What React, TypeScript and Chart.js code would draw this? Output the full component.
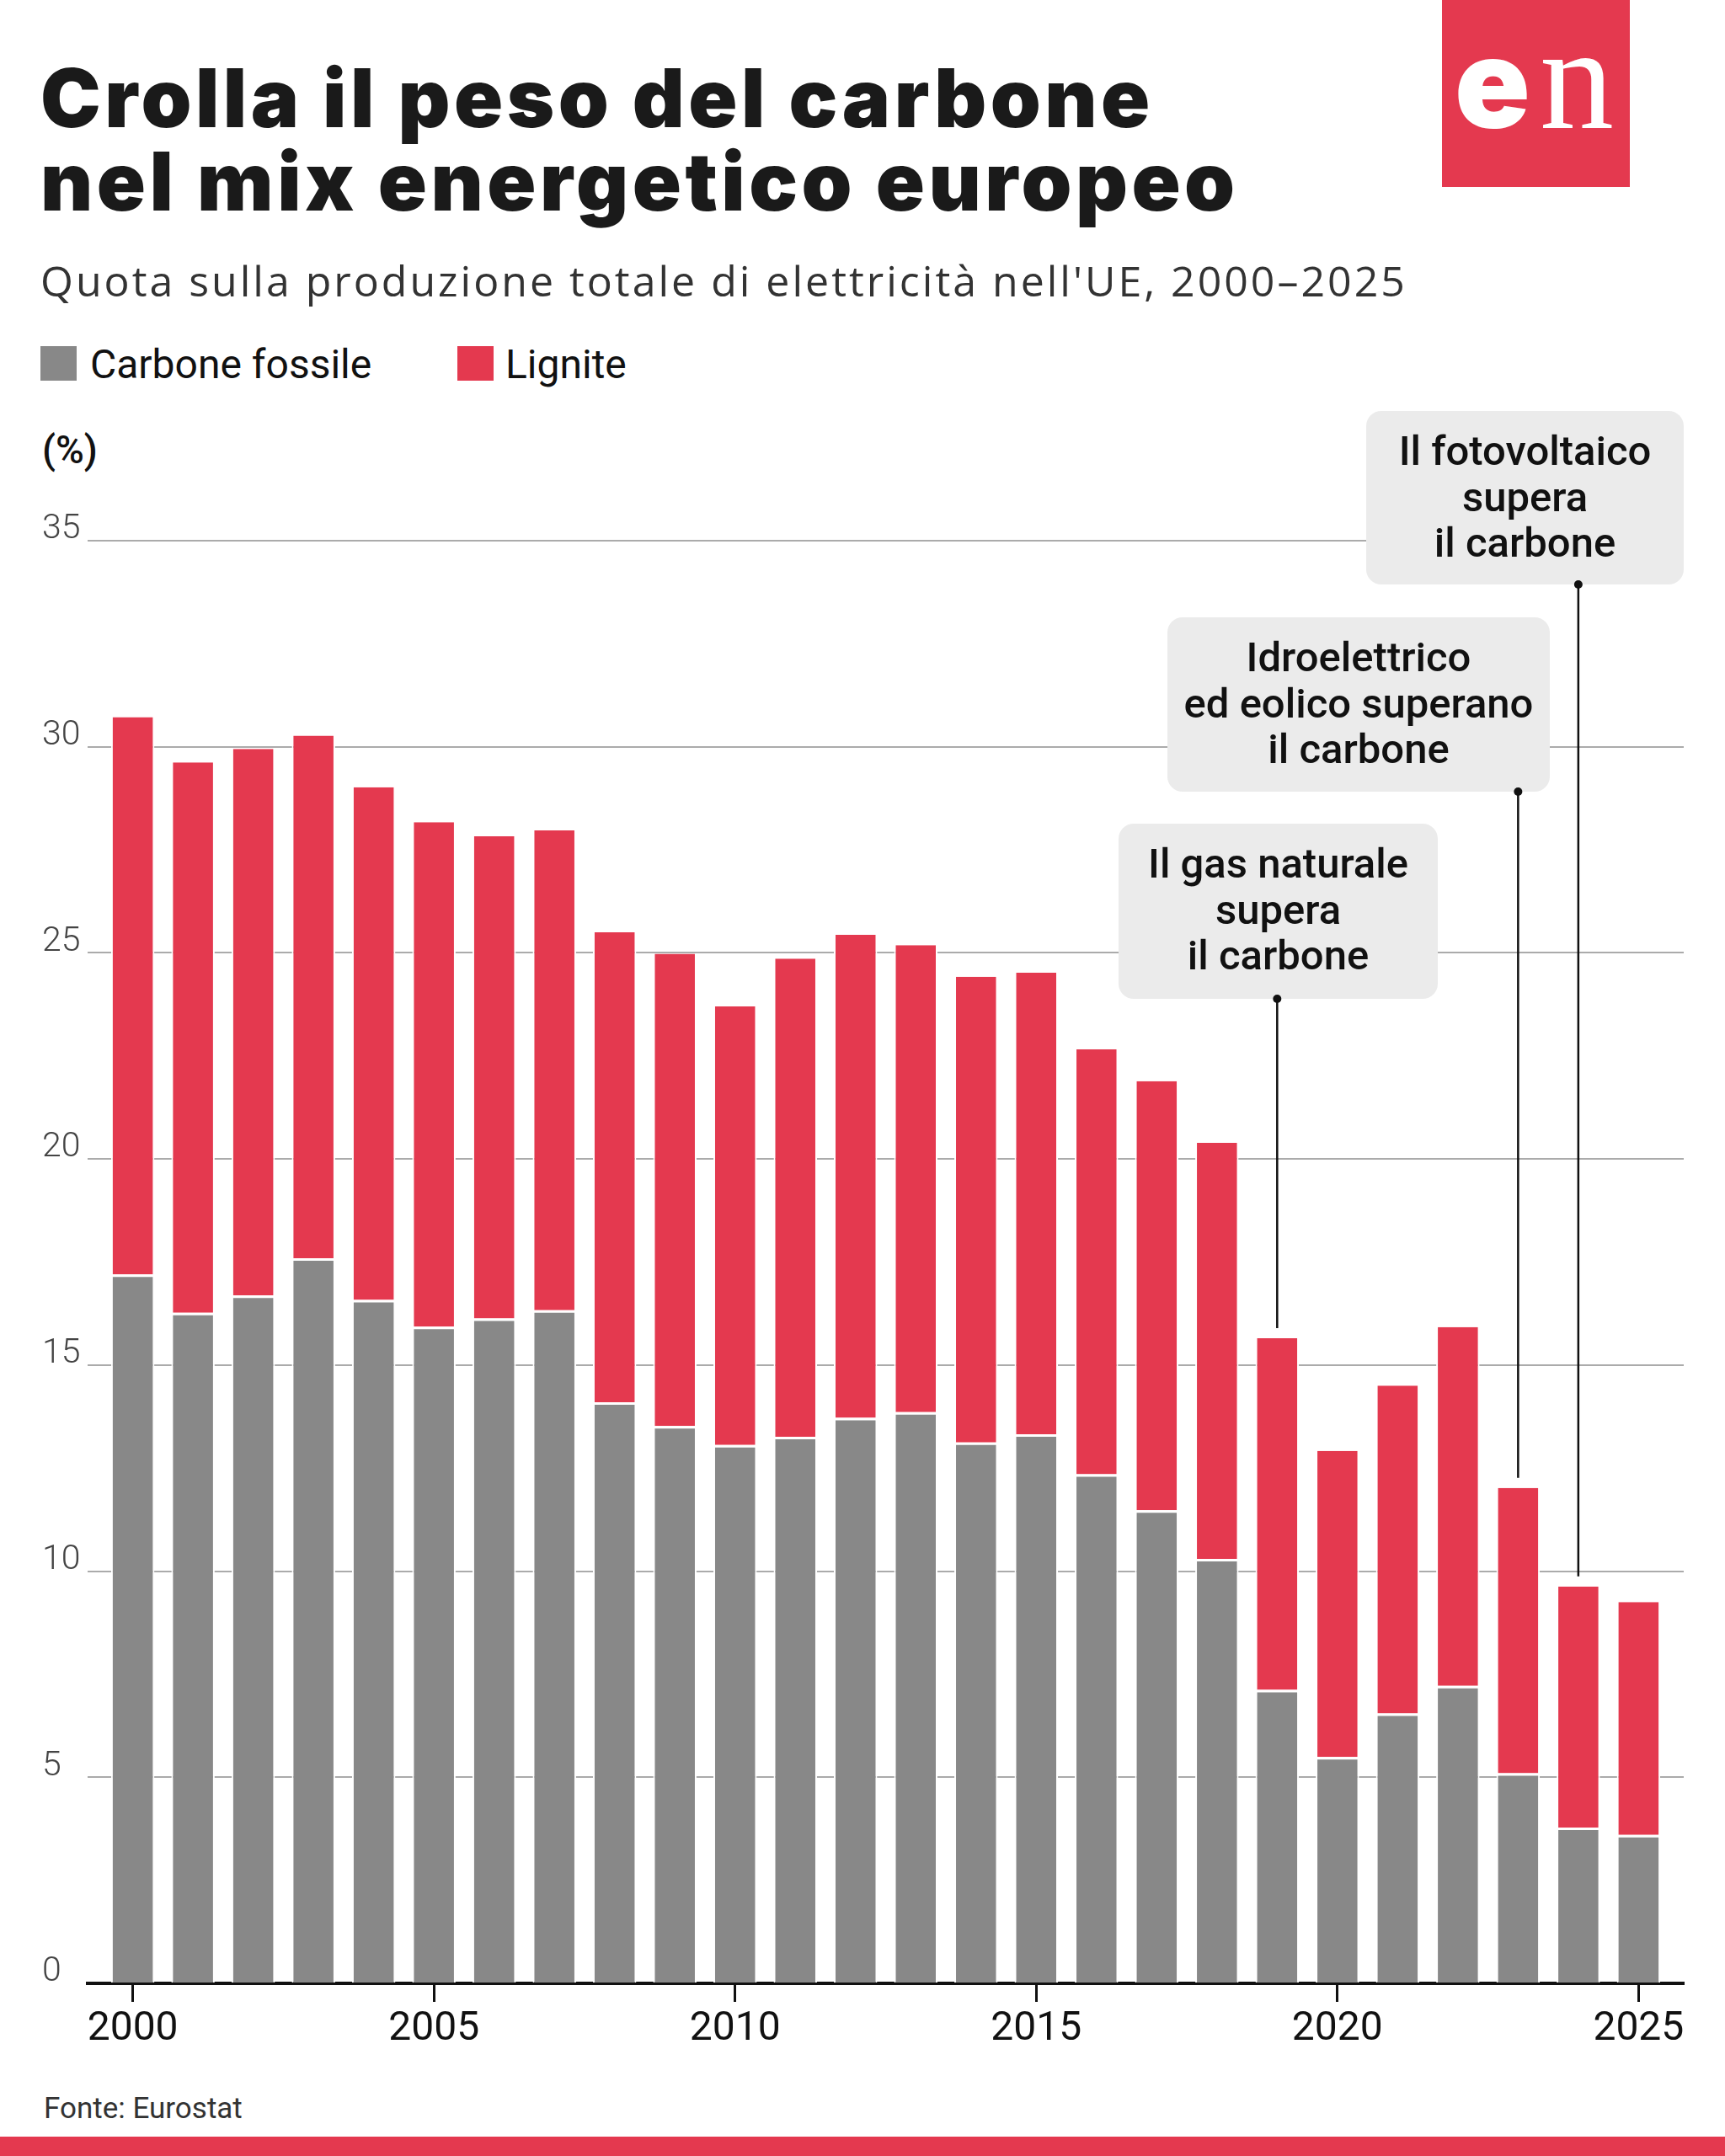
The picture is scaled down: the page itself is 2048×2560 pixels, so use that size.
import React, { useEffect, useRef } from 'react';
import { Chart, registerables } from 'chart.js';

Chart.register(...registerables);

// ---------- DATA ----------
const years = [2000, 2001, 2002, 2003, 2004, 2005, 2006, 2007, 2008, 2009, 2010, 2011, 2012,
  2013, 2014, 2015, 2016, 2017, 2018, 2019, 2020, 2021, 2022, 2023, 2024, 2025];
const hardCoal = [17.2, 16.27, 16.69, 17.59, 16.58, 15.93, 16.13, 16.33, 14.1, 13.52, 13.06, 13.26, 13.72,
  13.86, 13.12, 13.32, 12.35, 11.48, 10.3, 7.12, 5.49, 6.55, 7.22, 5.1, 3.78, 3.6];
const lignite = [13.52, 13.35, 13.26, 12.68, 12.44, 12.24, 11.7, 11.64, 11.4, 11.46, 10.64, 11.6, 11.72,
  11.33, 11.3, 11.2, 10.31, 10.41, 10.09, 8.53, 7.43, 7.95, 8.7, 6.92, 5.85, 5.65];
const seriesNames = ['Carbone fossile', 'Lignite'];
const yTicks = [0, 5, 10, 15, 20, 25, 30, 35];
const annotationYears = [2019, 2023, 2024];
const annotationTexts = [
  ['Il gas naturale', 'supera', 'il carbone'],
  ['Idroelettrico', 'ed eolico superano', 'il carbone'],
  ['Il fotovoltaico', 'supera', 'il carbone'],
];

// ---------- STYLE / LAYOUT ----------
const RED = '#E4394F';
const GRAY = '#888888';
const CANVAS_TOP = 440;
const CANVAS_H = 2000;
const annotationBoxes = [
  { left: 1328, right: 1707, top: 978, bottom: 1186 },
  { left: 1386, right: 1840, top: 733, bottom: 940 },
  { left: 1622, right: 1999, top: 488, bottom: 694 },
];

const annotationPlugin = {
  id: 'annotationBoxes',
  afterDatasetsDraw(chart: any) {
    const { ctx, scales } = chart;
    const xs = scales.x;
    const ys = scales.y;
    ctx.save();
    annotationYears.forEach((yr, i) => {
      const idx = years.indexOf(yr);
      const total = hardCoal[idx] + lignite[idx];
      const px = xs.getPixelForValue(yr);
      const barTop = ys.getPixelForValue(total);
      const b = annotationBoxes[i];
      const top = b.top - CANVAS_TOP;
      const bottom = b.bottom - CANVAS_TOP;
      // connector line
      ctx.strokeStyle = '#111';
      ctx.lineWidth = 2.5;
      ctx.beginPath();
      ctx.moveTo(px, bottom);
      ctx.lineTo(px, barTop - 12);
      ctx.stroke();
      // box
      ctx.fillStyle = '#EBEBEB';
      ctx.beginPath();
      (ctx as any).roundRect(b.left, top, b.right - b.left, bottom - top, 18);
      ctx.fill();
      // dot
      ctx.fillStyle = '#111';
      ctx.beginPath();
      ctx.arc(px, bottom, 5, 0, Math.PI * 2);
      ctx.fill();
      // text
      ctx.fillStyle = '#111';
      ctx.font = '500 49px Roboto';
      ctx.textAlign = 'center';
      ctx.textBaseline = 'middle';
      const cx = (b.left + b.right) / 2;
      annotationTexts[i].forEach((line, j) => {
        ctx.fillText(line, cx, top + 52 + j * 54.5);
      });
    });
    ctx.restore();
  },
};

export default function App() {
  const canvasRef = useRef<HTMLCanvasElement | null>(null);

  useEffect(() => {
    document.body.style.margin = '0';
    const canvas = canvasRef.current;
    if (!canvas) return;
    const chart = new Chart(canvas, {
      type: 'bar',
      data: {
        datasets: [
          {
            label: seriesNames[0],
            data: years.map((yr, i) => ({ x: yr, y: hardCoal[i] })),
            backgroundColor: GRAY,
            borderColor: '#ffffff',
            borderWidth: { top: 3, left: 2, right: 2, bottom: 0 },
            borderSkipped: false,
            stack: 's',
            barPercentage: 0.72,
            categoryPercentage: 1,
          },
          {
            label: seriesNames[1],
            data: years.map((yr, i) => ({ x: yr, y: lignite[i] })),
            backgroundColor: RED,
            borderColor: '#ffffff',
            borderWidth: { top: 0, left: 2, right: 2, bottom: 0 },
            borderSkipped: false,
            stack: 's',
            barPercentage: 0.72,
            categoryPercentage: 1,
          },
        ],
      },
      options: {
        responsive: false,
        animation: false,
        devicePixelRatio: 1,
        layout: { padding: { left: 50, right: 49, top: 642 - CANVAS_TOP, bottom: 0 } },
        plugins: {
          legend: { display: false },
          tooltip: { enabled: false },
          title: { display: false },
        },
        scales: {
          x: {
            type: 'linear',
            stacked: true,
            offset: false,
            min: 1999.25,
            max: 2025.75,
            z: 1,
            afterFit: (s: any) => { s.height = CANVAS_TOP + CANVAS_H - 2355; },
            grid: {
              offset: false,
              drawOnChartArea: false,
              drawTicks: true,
              tickLength: 22,
              tickWidth: 3,
              tickColor: '#111',
            },
            border: { display: true, color: '#111', width: 4 },
            ticks: {
              stepSize: 5,
              includeBounds: false,
              autoSkip: false,
              maxRotation: 0,
              padding: 4,
              color: '#111',
              font: { family: 'Roboto', size: 48, weight: '400' },
              callback: (v: any) => String(v),
            },
          },
          y: {
            stacked: true,
            min: 0,
            max: 35,
            afterFit: (s: any) => { s.width = 54; },
            afterBuildTicks: (s: any) => { s.ticks = yTicks.map((v) => ({ value: v })); },
            grid: {
              drawTicks: false,
              lineWidth: 2,
              color: (c: any) => (c.tick && c.tick.value === 0 ? 'rgba(0,0,0,0)' : '#ababab'),
            },
            border: { display: false },
            ticks: {
              crossAlign: 'far',
              labelOffset: -13,
              padding: 0,
              color: '#444',
              font: { family: 'Roboto', size: 41, weight: '300' },
            },
          },
        },
      },
      plugins: [annotationPlugin],
    } as any);
    return () => chart.destroy();
  }, []);

  return (
    <div style={{ position: 'relative', width: 2048, height: 2560, background: '#fff', overflow: 'hidden' }}>
      <svg width={2048} height={2560} style={{ position: 'absolute', left: 0, top: 0 }}>
        <text x={48} y={151} fontFamily="Inter" fontWeight={900} fontSize={96} fill="#1a1a1a" letterSpacing={4.5}>
          Crolla il peso del carbone
        </text>
        <text x={48} y={250} fontFamily="Inter" fontWeight={900} fontSize={96} fill="#1a1a1a" letterSpacing={4.5}>
          nel mix energetico europeo
        </text>
        <text x={48} y={352} fontFamily="Open Sans" fontWeight={400} fontSize={50} fill="#333" letterSpacing={3}>
          Quota sulla produzione totale di elettricità nell'UE, 2000–2025
        </text>
        <rect x={48} y={411} width={43} height={41} fill={GRAY} />
        <text x={107} y={449} fontFamily="Roboto" fontWeight={400} fontSize={48} fill="#111">
          {seriesNames[0]}
        </text>
        <rect x={543} y={411} width={43} height={41} fill={RED} />
        <text x={600} y={449} fontFamily="Roboto" fontWeight={400} fontSize={48} fill="#111">
          {seriesNames[1]}
        </text>
        <text x={50} y={550} fontFamily="Roboto" fontWeight={500} fontSize={46} fill="#111">
          (%)
        </text>
        <rect x={1712} y={0} width={223} height={222} fill={RED} />
        <text x={1727} y={152} fontFamily="Inter" fontWeight={900} fontSize={148} fill="#fff">
          e
        </text>
        <text x={1828} y={152} fontFamily="Liberation Serif" fontWeight={400} fontSize={176} fill="#fff">
          n
        </text>
        <text x={52} y={2515} fontFamily="Roboto" fontWeight={400} fontSize={35} fill="#333">
          Fonte: Eurostat
        </text>
        <rect x={0} y={2537} width={2048} height={23} fill={RED} />
      </svg>
      <canvas
        ref={canvasRef}
        width={2048}
        height={CANVAS_H}
        style={{ position: 'absolute', left: 0, top: CANVAS_TOP, width: 2048, height: CANVAS_H }}
      />
    </div>
  );
}
